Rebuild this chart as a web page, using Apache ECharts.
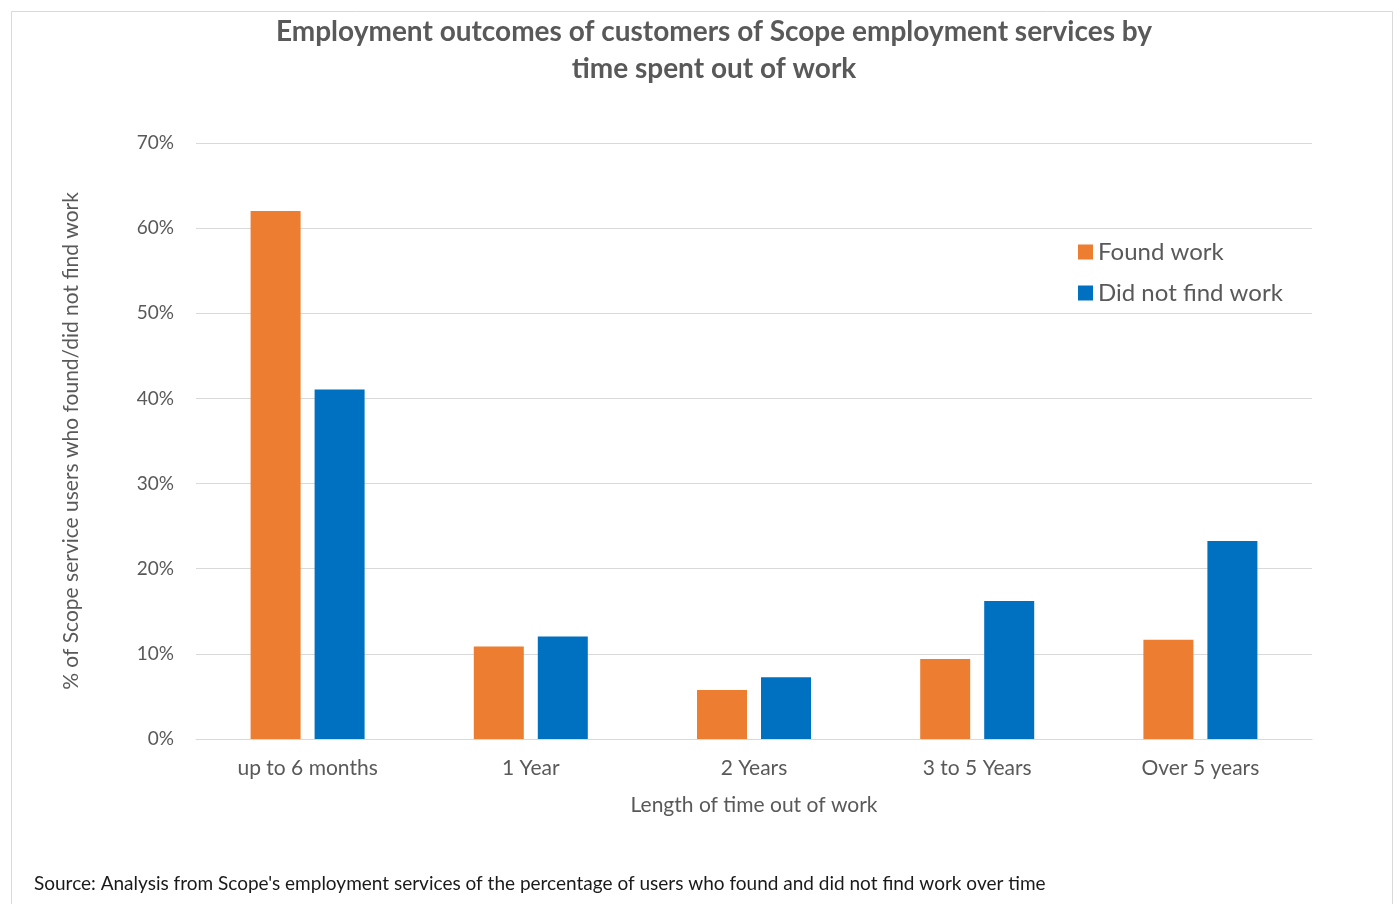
<!DOCTYPE html>
<html>
<head>
<meta charset="utf-8">
<script src="https://cdn.jsdelivr.net/npm/echarts@6/dist/echarts.min.js"></script>
<style>
html,body{margin:0;padding:0;background:#fff;}
#chart{width:1397px;height:904px;}
</style>
</head>
<body>
<div id="chart"></div>
<script>
const categories = ['up to 6 months', '1 Year', '2 Years', '3 to 5 Years', 'Over 5 years'];
const foundWork = [62.0, 10.85, 5.75, 9.4, 11.65];
const didNotFindWork = [41.05, 12.05, 7.25, 16.2, 23.25];
const yTicks = [0, 10, 20, 30, 40, 50, 60, 70];

const FONT = 'Lato, "Open Sans", sans-serif';
const chart = echarts.init(document.getElementById('chart'));
chart.setOption({
  backgroundColor: '#fff',
  animation: false,
  graphic: [
    { type: 'rect', left: 9, top: 9, shape: { width: 1381, height: 910 },
      style: { fill: 'none', stroke: '#d9d9d9', lineWidth: 1 } },
    { type: 'text', left: 34, top: 874,
      style: { text: "Source: Analysis from Scope's employment services of the percentage of users who found and did not find work over time",
        fill: '#1a1a1a', font: '19px ' + FONT } }
  ],
  title: {
    text: 'Employment outcomes of customers of Scope employment services by\ntime spent out of work',
    left: 709, textAlign: 'center', top: 8,
    textStyle: { color: '#595959', fontFamily: FONT, fontWeight: 'bold', fontSize: 28, lineHeight: 37 }
  },
  legend: {
    data: ['Found work', 'Did not find work'],
    orient: 'vertical', left: 1073, top: 235,
    itemWidth: 15, itemHeight: 15, itemGap: 17, icon: 'rect',
    textStyle: { color: '#595959', fontFamily: FONT, fontSize: 24 }
  },
  grid: { left: 196, right: 85, top: 143, bottom: 165, containLabel: false },
  xAxis: {
    type: 'category', data: categories,
    name: 'Length of time out of work', nameLocation: 'middle', nameGap: 56,
    nameTextStyle: { color: '#595959', fontFamily: FONT, fontSize: 21 },
    axisLine: { lineStyle: { color: '#d9d9d9' } },
    axisTick: { show: false },
    axisLabel: { color: '#595959', fontFamily: FONT, fontSize: 21, margin: 19 }
  },
  yAxis: {
    type: 'value', min: 0, max: 70, interval: 10,
    name: '% of Scope service users who found/did not find work', nameLocation: 'middle', nameGap: 114,
    nameTextStyle: { color: '#595959', fontFamily: FONT, fontSize: 21 },
    axisLine: { show: false }, axisTick: { show: false },
    splitLine: { lineStyle: { color: '#d9d9d9' } },
    axisLabel: { color: '#595959', fontFamily: FONT, fontSize: 19, margin: 22,
      formatter: v => yTicks.includes(v) ? v + '%' : '' }
  },
  series: [
    { name: 'Found work', type: 'bar', data: foundWork, barWidth: 50, barGap: '28%',
      itemStyle: { color: '#ED7D31' } },
    { name: 'Did not find work', type: 'bar', data: didNotFindWork, barWidth: 50,
      itemStyle: { color: '#0070C0' } }
  ]
});
</script>
</body>
</html>
